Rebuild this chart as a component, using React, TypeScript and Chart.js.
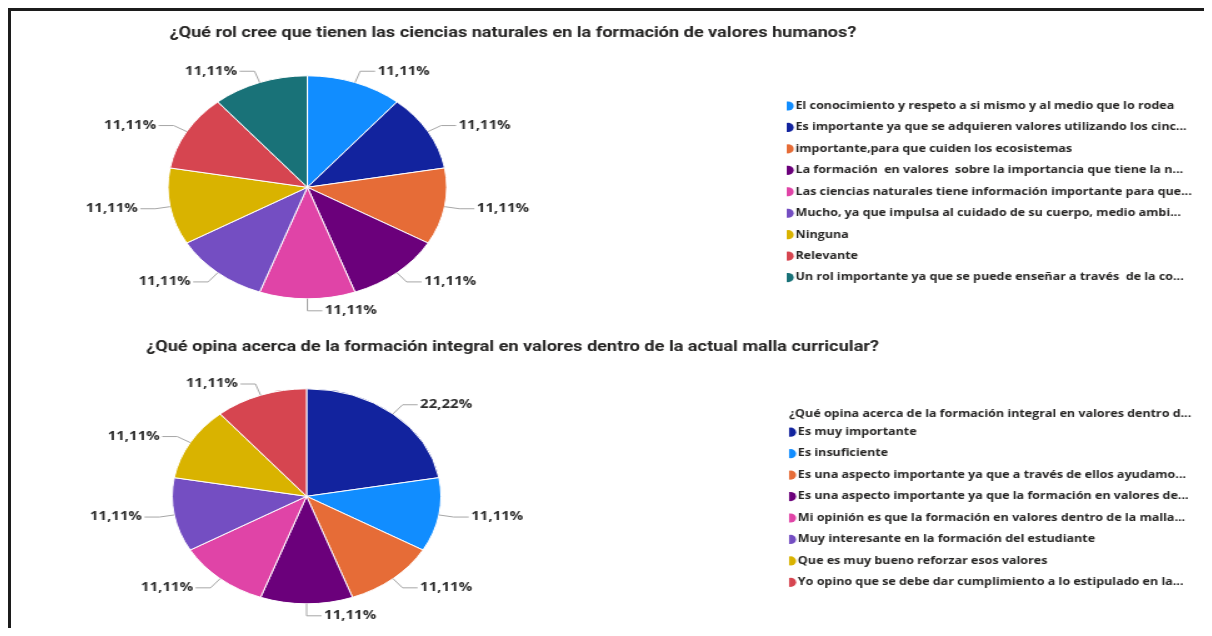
import React, { useEffect, useRef } from 'react';
import { Chart, registerables } from 'chart.js';

Chart.register(...registerables);

// ---------- DATA ----------
const title1 = '¿Qué rol cree que tienen las ciencias naturales en la formación de valores humanos?';
const labels1 = [
  'El conocimiento y respeto a si mismo y al medio que lo rodea',
  'Es importante ya que se adquieren valores utilizando los cinc...',
  'importante,para que cuiden los ecosistemas',
  'La formación  en valores  sobre la importancia que tiene la n...',
  'Las ciencias naturales tiene información importante para que...',
  'Mucho, ya que impulsa al cuidado de su cuerpo, medio ambi...',
  'Ninguna',
  'Relevante',
  'Un rol importante ya que se puede enseñar a través  de la co...',
];
const values1 = [1, 1, 1, 1, 1, 1, 1, 1, 1];
const colors1 = ['#118DFF', '#12239E', '#E66C37', '#6B007B', '#E044A7', '#744EC2', '#D9B300', '#D64550', '#197278'];

const title2 = '¿Qué opina acerca de la formación integral en valores dentro de la actual malla curricular?';
const legendTitle2 = '¿Qué opina acerca de la formación integral en valores dentro d...';
const labels2 = [
  'Es muy importante',
  'Es insuficiente',
  'Es una aspecto importante ya que a través de ellos ayudamo...',
  'Es una aspecto importante ya que la formación en valores de...',
  'Mi opinión es que la formación en valores dentro de la malla...',
  'Muy interesante en la formación del estudiante',
  'Que es muy bueno reforzar esos valores',
  'Yo opino que se debe dar cumplimiento a lo estipulado en la...',
];
const values2 = [2, 1, 1, 1, 1, 1, 1, 1];
const colors2 = ['#12239E', '#118DFF', '#E66C37', '#6B007B', '#E044A7', '#744EC2', '#D9B300', '#D64550'];

// ---------- STYLE ----------
const TEXT = '#252423';
const STRETCH = 1.25; // the picture is stretched horizontally
const FRAME_W = 1201;

const pieLabels = {
  id: 'pieLabels',
  afterDatasetsDraw(chart: any, _args: any, opts: any) {
    const { ctx } = chart;
    const meta = chart.getDatasetMeta(0);
    const data = chart.data.datasets[0].data as number[];
    const total = data.reduce((a, b) => a + b, 0);
    ctx.save();
    meta.data.forEach((arc: any, i: number) => {
      const { x, y, startAngle, endAngle, outerRadius } = arc.getProps(
        ['x', 'y', 'startAngle', 'endAngle', 'outerRadius'],
        true
      );
      const mid = (startAngle + endAngle) / 2;
      const c = Math.cos(mid);
      const s = Math.sin(mid);
      const x0 = x + outerRadius * c;
      const y0 = y + outerRadius * s;
      const x1 = x + (outerRadius + opts.elbow) * c;
      const y1 = y + (outerRadius + opts.elbow) * s;
      const dir = c < -1e-6 ? -1 : 1;
      const x2 = x1 + dir * opts.run;
      ctx.strokeStyle = opts.lineColor;
      ctx.lineWidth = 1;
      ctx.beginPath();
      ctx.moveTo(x0, y0);
      ctx.lineTo(x1, y1);
      ctx.lineTo(x2, y1);
      ctx.stroke();
      ctx.font = opts.font;
      ctx.fillStyle = opts.color;
      ctx.textAlign = dir > 0 ? 'left' : 'right';
      ctx.textBaseline = 'middle';
      const pct = ((data[i] / total) * 100).toFixed(2).replace('.', ',') + '%';
      ctx.fillText(pct, x2 + dir * opts.gap, y1);
    });
    ctx.restore();
  },
};

type Cfg = {
  title: string;
  labels: string[];
  values: number[];
  colors: string[];
  legendTitle: string;
  legendTitlePadTop: number;
  height: number;
  internalW: number;
  offset: number;
  radius: number;
  padRight: number;
  titlePad: { top: number; bottom: number };
  legendWidth: number;
};

function PieChart({ cfg }: { cfg: Cfg }) {
  const ref = useRef<HTMLCanvasElement>(null);
  useEffect(() => {
    const canvas = ref.current!;
    const chart = new Chart(canvas, {
      type: 'pie',
      data: {
        labels: cfg.labels,
        datasets: [
          {
            data: cfg.values,
            backgroundColor: cfg.colors,
            borderColor: '#ffffff',
            borderWidth: 1,
          },
        ],
      },
      plugins: [pieLabels],
      options: {
        animation: false,
        responsive: false,
        maintainAspectRatio: false,
        devicePixelRatio: 1,
        events: [],
        radius: cfg.radius,
        layout: { padding: { left: 0, right: cfg.padRight, top: 0, bottom: 0 } },
        plugins: {
          tooltip: { enabled: false },
          title: {
            display: true,
            text: cfg.title,
            color: TEXT,
            align: 'center',
            font: { family: 'Roboto, sans-serif', size: 14.5, weight: 'bold', lineHeight: 1.2 },
            padding: cfg.titlePad,
          },
          legend: {
            display: true,
            position: 'right',
            align: 'center',
            maxWidth: cfg.legendWidth,
            title: {
              display: true,
              text: cfg.legendTitle,
              color: TEXT,
              position: 'start',
              font: { family: '"Open Sans", sans-serif', size: 10, weight: 'bold', lineHeight: 1.2 },
              padding: { top: cfg.legendTitlePadTop, bottom: 6 },
            },
            labels: {
              usePointStyle: true,
              pointStyle: 'circle',
              boxWidth: 2,
              boxHeight: 6.5,
              padding: 0,
              color: TEXT,
              font: { family: '"Open Sans", sans-serif', size: 10, weight: 'bold', lineHeight: 2.145 },
              generateLabels: (ch: any) => {
                const base = (Chart as any).overrides.pie.plugins.legend.labels.generateLabels(ch);
                return base.map((it: any) => ({ ...it, text: [it.text], lineWidth: 0 }));
              },
            },
          },
          pieLabels: {
            elbow: 12,
            run: 12,
            gap: 2,
            lineColor: '#a6a6a6',
            color: '#2b2b2b',
            font: 'bold 12px "Open Sans", sans-serif',
          },
        } as any,
      },
    });
    return () => chart.destroy();
  }, []);
  const displayW = cfg.internalW * STRETCH;
  return (
    <canvas
      ref={ref}
      width={cfg.internalW}
      height={cfg.height}
      style={{
        display: 'block',
        marginLeft: `${-cfg.offset}px`,
        width: `${displayW}px`,
        height: `${cfg.height}px`,
      }}
    />
  );
}

const cfg1: Cfg = {
  title: title1,
  labels: labels1,
  values: values1,
  colors: colors1,
  legendTitle: '',
  legendTitlePadTop: 36,
  height: 319,
  internalW: 1108,
  offset: 183,
  radius: 111.5,
  padRight: 12,
  titlePad: { top: 13.6, bottom: 2.6 },
  legendWidth: 329,
};

const cfg2: Cfg = {
  title: title2,
  labels: labels2,
  values: values2,
  colors: colors2,
  legendTitle: legendTitle2,
  legendTitlePadTop: 50,
  height: 298,
  internalW: 1112,
  offset: 187,
  radius: 107.5,
  padRight: 10.4,
  titlePad: { top: 8.6, bottom: 8.6 },
  legendWidth: 331.4,
};

export default function App() {
  return (
    <div
      style={{
        width: `${FRAME_W}px`,
        borderTop: '3px solid #1c1c1c',
        borderLeft: '3px solid #1c1c1c',
        background: '#ffffff',
        overflow: 'hidden',
      }}
    >
      <PieChart cfg={cfg1} />
      <PieChart cfg={cfg2} />
    </div>
  );
}
